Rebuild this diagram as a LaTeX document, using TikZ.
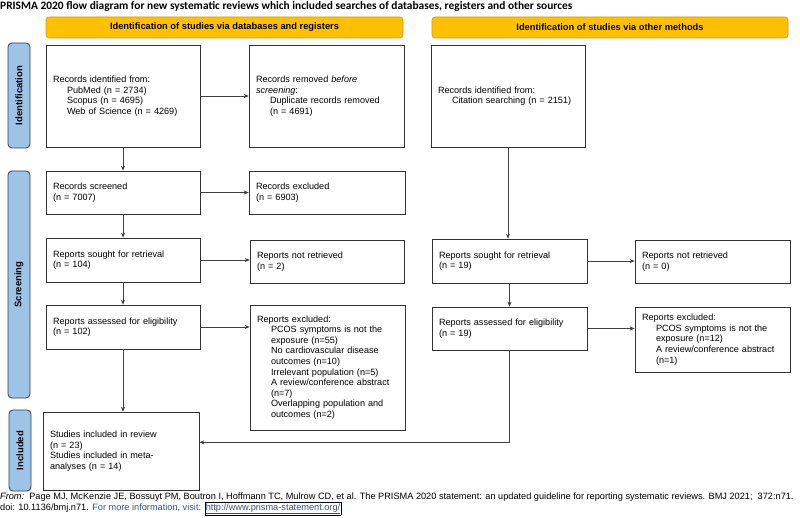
\documentclass[tikz,border=0pt]{standalone}
\usepackage{fontspec}
\setmainfont{Liberation Sans}
\newfontfamily\titlefont{Carlito}
\usetikzlibrary{arrows.meta,calc}
\definecolor{hdrorange}{RGB}{255,192,0}
\definecolor{hdredge}{RGB}{205,155,20}
\definecolor{sideblue}{RGB}{157,195,230}
\definecolor{sideedge}{RGB}{45,65,90}
\definecolor{linkblue}{RGB}{46,84,150}
\newcommand{\ind}{\hspace*{14pt}}
\tikzset{
  box/.style={draw=black!80, line width=0.7pt, fill=white, inner xsep=7pt, inner ysep=2pt,
    align=left, font=\fontsize{9.1}{10.6}\selectfont},
  header/.style={draw=hdredge, fill=hdrorange, rounded corners=3pt, line width=0.6pt,
    font=\fontsize{9.3}{11}\selectfont\bfseries},
  phase/.style={draw=sideedge, fill=sideblue, rounded corners=4pt, line width=0.8pt,
    rotate=90, font=\fontsize{9.5}{11}\selectfont\bfseries},
  flow/.style={draw=black!75, line width=0.6pt, -{Stealth[length=5pt,width=4pt]}},
}

\begin{document}
\begin{tikzpicture}[x=1pt,y=-1pt]
  \useasboundingbox (0,0) rectangle (800,518);

  \node[anchor=west, inner sep=0, font=\titlefont\bfseries\fontsize{11.4}{13}\selectfont] (title) at (0,6)
    {PRISMA 2020 flow diagram for new systematic reviews which included searches of databases, registers and other sources};

  % column headers
  \node[header, minimum width=357, minimum height=21] (hdrdb) at (224.5,27.5) {Identification of studies via databases and registers};
  \node[header, minimum width=356, minimum height=21] (hdrother) at (610,27.5) {Identification of studies via other methods};

  % phase labels
  \node[phase, minimum width=105, minimum height=22] (phident) at (19,95.5) {Identification};
  \node[phase, minimum width=227, minimum height=22] (phscreen) at (19,284.5) {Screening};
  \node[phase, minimum width=81, minimum height=22] (phincl) at (20,450.5) {Included};

  % databases and registers
  \node[box, text width=140, minimum height=102] (ident) at (123,96)
    {Records identified from:\\ \ind PubMed (n = 2734)\\ \ind Scopus (n = 4695)\\ \ind Web of Science (n = 4269)};
  \node[box, text width=141, minimum height=102] (removed) at (326.5,96)
    {Records removed \textit{before}\\ \textit{screening}:\\ \ind Duplicate records removed\\ \ind (n = 4691)};
  \node[box, text width=140, minimum height=43] (screened) at (123,192.5) {Records screened\\ (n = 7007)};
  \node[box, text width=142, minimum height=43] (excluded) at (327,192.5) {Records excluded\\ (n = 6903)};
  \node[box, text width=140, minimum height=44] (sought) at (123,260) {Reports sought for retrieval\\ (n = 104)};
  \node[box, text width=140, minimum height=43] (notretr) at (327,261.5) {Reports not retrieved\\ (n = 2)};
  \node[box, text width=140, minimum height=44] (assessed) at (123,327) {Reports assessed for eligibility\\ (n = 102)};
  \node[box, text width=141, minimum height=125] (rexcl) at (327.5,367.5)
    {Reports excluded:\\ \ind PCOS symptoms is not the\\ \ind exposure (n=55)\\ \ind No cardiovascular disease\\
     \ind outcomes (n=10)\\ \ind Irrelevant population (n=5)\\ \ind A review/conference abstract\\ \ind (n=7)\\
     \ind Overlapping population and\\ \ind outcomes (n=2)};
  \node[box, text width=142, minimum height=78] (included) at (121,451)
    {Studies included in review\\ (n = 23)\\ Studies included in meta-\\ analyses (n = 14)};

  % other methods
  \node[box, text width=140, minimum height=102] (other) at (508,96)
    {Records identified from:\\ \ind Citation searching (n = 2151)};
  \node[box, text width=141, minimum height=44] (osought) at (509.5,261) {Reports sought for retrieval\\ (n = 19)};
  \node[box, text width=141, minimum height=43] (onotretr) at (712.5,261.5) {Reports not retrieved\\ (n = 0)};
  \node[box, text width=141, minimum height=43] (oassessed) at (509.5,328.5) {Reports assessed for eligibility\\ (n = 19)};
  \node[box, text width=141, minimum height=65] (oexcl) at (712.5,339.5)
    {Reports excluded:\\ \ind PCOS symptoms is not the\\ \ind exposure (n=12)\\ \ind A review/conference abstract\\ \ind (n=1)};

  \draw[flow] (ident) -- (removed);
  \draw[flow] (ident) -- (screened);
  \draw[flow] (screened) -- (excluded);
  \draw[flow] (screened) -- (sought);
  \draw[flow] (sought.east) -- (sought.east -| notretr.west);
  \draw[flow] (sought) -- (assessed);
  \draw[flow] (assessed.east) -- (assessed.east -| rexcl.west);
  \draw[flow] (assessed.south) -- (assessed.south |- included.north);

  \draw[flow] (other.south) -- (other.south |- osought.north);
  \draw[flow] (osought.east) -- (osought.east -| onotretr.west);
  \draw[flow] (osought) -- (oassessed);
  \draw[flow] (oassessed.east) -- (oassessed.east -| oexcl.west);
  \coordinate (join) at ($(oassessed.south)+(0,92)$);
  \draw[flow] (oassessed.south) -- (join) -- (join -| included.east);

  % source line
  \node[anchor=north west, inner sep=0, align=left, font=\fontsize{9.2}{10.2}\selectfont] (source) at (0,493)
    {\textit{From:}\ \ Page MJ, McKenzie JE, Bossuyt PM, Boutron I, Hoffmann TC, Mulrow CD, et al. The PRISMA 2020 statement: an updated guideline for reporting systematic reviews. BMJ 2021;\ \ 372:n71.\\
     doi: 10.1136/bmj.n71. \textcolor{linkblue}{For more information, visit:} {\setlength\fboxsep{0.8pt}\fbox{\textcolor{linkblue}{\underline{http://www.prisma-statement.org/}}}}};
\end{tikzpicture}
\end{document}
